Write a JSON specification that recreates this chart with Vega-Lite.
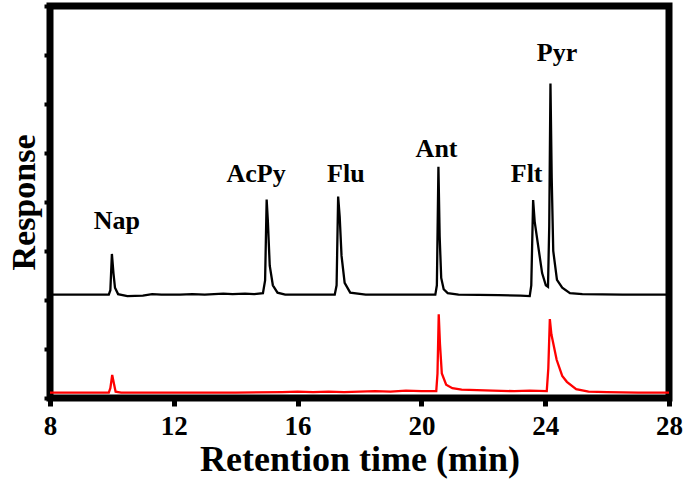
{
  "$schema": "https://vega.github.io/schema/vega-lite/v6.json",
  "width": 619,
  "height": 392,
  "autosize": "none",
  "padding": {"left": 50, "top": 6, "right": 16, "bottom": 95},
  "background": "white",
  "config": {
    "view": {"stroke": "black", "strokeWidth": 7},
    "font": "Liberation Serif"
  },
  "datasets": {
    "trace": [
      {"t": 8.0, "r": 2.11, "s": "upper"},
      {"t": 9.9, "r": 2.11, "s": "upper"},
      {"t": 9.95, "r": 2.2, "s": "upper"},
      {"t": 10.0, "r": 2.94, "s": "upper"},
      {"t": 10.05, "r": 2.55, "s": "upper"},
      {"t": 10.1, "r": 2.25, "s": "upper"},
      {"t": 10.2, "r": 2.12, "s": "upper"},
      {"t": 10.5, "r": 2.08, "s": "upper"},
      {"t": 11.0, "r": 2.09, "s": "upper"},
      {"t": 11.3, "r": 2.12, "s": "upper"},
      {"t": 11.6, "r": 2.11, "s": "upper"},
      {"t": 12.2, "r": 2.11, "s": "upper"},
      {"t": 12.6, "r": 2.12, "s": "upper"},
      {"t": 13.0, "r": 2.11, "s": "upper"},
      {"t": 13.3, "r": 2.12, "s": "upper"},
      {"t": 13.6, "r": 2.13, "s": "upper"},
      {"t": 13.9, "r": 2.12, "s": "upper"},
      {"t": 14.3, "r": 2.13, "s": "upper"},
      {"t": 14.6, "r": 2.12, "s": "upper"},
      {"t": 14.88, "r": 2.14, "s": "upper"},
      {"t": 14.95, "r": 2.4, "s": "upper"},
      {"t": 15.0, "r": 4.05, "s": "upper"},
      {"t": 15.04, "r": 3.6, "s": "upper"},
      {"t": 15.1, "r": 2.7, "s": "upper"},
      {"t": 15.2, "r": 2.3, "s": "upper"},
      {"t": 15.35, "r": 2.15, "s": "upper"},
      {"t": 15.6, "r": 2.11, "s": "upper"},
      {"t": 16.5, "r": 2.11, "s": "upper"},
      {"t": 17.2, "r": 2.11, "s": "upper"},
      {"t": 17.26, "r": 2.3, "s": "upper"},
      {"t": 17.31, "r": 4.11, "s": "upper"},
      {"t": 17.36, "r": 3.7, "s": "upper"},
      {"t": 17.42, "r": 2.9, "s": "upper"},
      {"t": 17.52, "r": 2.35, "s": "upper"},
      {"t": 17.7, "r": 2.15, "s": "upper"},
      {"t": 18.2, "r": 2.11, "s": "upper"},
      {"t": 19.5, "r": 2.11, "s": "upper"},
      {"t": 20.45, "r": 2.11, "s": "upper"},
      {"t": 20.5, "r": 2.3, "s": "upper"},
      {"t": 20.55, "r": 4.72, "s": "upper"},
      {"t": 20.59, "r": 3.3, "s": "upper"},
      {"t": 20.64, "r": 2.45, "s": "upper"},
      {"t": 20.72, "r": 2.22, "s": "upper"},
      {"t": 20.85, "r": 2.14, "s": "upper"},
      {"t": 21.2, "r": 2.11, "s": "upper"},
      {"t": 22.5, "r": 2.1, "s": "upper"},
      {"t": 23.2, "r": 2.09, "s": "upper"},
      {"t": 23.5, "r": 2.08, "s": "upper"},
      {"t": 23.55, "r": 2.3, "s": "upper"},
      {"t": 23.61, "r": 4.04, "s": "upper"},
      {"t": 23.66, "r": 3.6, "s": "upper"},
      {"t": 23.76, "r": 3.16, "s": "upper"},
      {"t": 23.9, "r": 2.55, "s": "upper"},
      {"t": 24.02, "r": 2.3, "s": "upper"},
      {"t": 24.09, "r": 2.27, "s": "upper"},
      {"t": 24.13, "r": 3.5, "s": "upper"},
      {"t": 24.17, "r": 6.42, "s": "upper"},
      {"t": 24.21, "r": 4.5, "s": "upper"},
      {"t": 24.26, "r": 3.0, "s": "upper"},
      {"t": 24.38, "r": 2.41, "s": "upper"},
      {"t": 24.55, "r": 2.25, "s": "upper"},
      {"t": 24.8, "r": 2.14, "s": "upper"},
      {"t": 25.2, "r": 2.12, "s": "upper"},
      {"t": 26.5, "r": 2.11, "s": "upper"},
      {"t": 28.0, "r": 2.11, "s": "upper"},
      {"t": 8.0, "r": 0.11, "s": "lower"},
      {"t": 9.9, "r": 0.11, "s": "lower"},
      {"t": 9.95, "r": 0.2, "s": "lower"},
      {"t": 10.01, "r": 0.47, "s": "lower"},
      {"t": 10.07, "r": 0.28, "s": "lower"},
      {"t": 10.12, "r": 0.13, "s": "lower"},
      {"t": 10.3, "r": 0.11, "s": "lower"},
      {"t": 12.0, "r": 0.11, "s": "lower"},
      {"t": 14.0, "r": 0.11, "s": "lower"},
      {"t": 15.5, "r": 0.12, "s": "lower"},
      {"t": 16.0, "r": 0.13, "s": "lower"},
      {"t": 16.5, "r": 0.12, "s": "lower"},
      {"t": 17.0, "r": 0.13, "s": "lower"},
      {"t": 17.5, "r": 0.12, "s": "lower"},
      {"t": 18.0, "r": 0.13, "s": "lower"},
      {"t": 18.5, "r": 0.14, "s": "lower"},
      {"t": 19.0, "r": 0.13, "s": "lower"},
      {"t": 19.5, "r": 0.15, "s": "lower"},
      {"t": 20.0, "r": 0.14, "s": "lower"},
      {"t": 20.48, "r": 0.14, "s": "lower"},
      {"t": 20.52, "r": 0.5, "s": "lower"},
      {"t": 20.56, "r": 1.71, "s": "lower"},
      {"t": 20.6, "r": 1.1, "s": "lower"},
      {"t": 20.66, "r": 0.5, "s": "lower"},
      {"t": 20.8, "r": 0.27, "s": "lower"},
      {"t": 21.0, "r": 0.2, "s": "lower"},
      {"t": 21.3, "r": 0.17, "s": "lower"},
      {"t": 21.8, "r": 0.16, "s": "lower"},
      {"t": 22.3, "r": 0.15, "s": "lower"},
      {"t": 23.0, "r": 0.14, "s": "lower"},
      {"t": 23.5, "r": 0.15, "s": "lower"},
      {"t": 24.05, "r": 0.14, "s": "lower"},
      {"t": 24.1, "r": 0.6, "s": "lower"},
      {"t": 24.15, "r": 1.61, "s": "lower"},
      {"t": 24.2, "r": 1.3, "s": "lower"},
      {"t": 24.37, "r": 0.78, "s": "lower"},
      {"t": 24.55, "r": 0.45, "s": "lower"},
      {"t": 24.7, "r": 0.33, "s": "lower"},
      {"t": 25.0, "r": 0.18, "s": "lower"},
      {"t": 25.4, "r": 0.13, "s": "lower"},
      {"t": 26.0, "r": 0.12, "s": "lower"},
      {"t": 27.0, "r": 0.11, "s": "lower"},
      {"t": 28.0, "r": 0.11, "s": "lower"}
    ],
    "labels": [
      {"t": 10.16, "r": 3.45, "name": "Nap"},
      {"t": 14.66, "r": 4.41, "name": "AcPy"},
      {"t": 17.56, "r": 4.41, "name": "Flu"},
      {"t": 20.49, "r": 4.92, "name": "Ant"},
      {"t": 23.4, "r": 4.41, "name": "Flt"},
      {"t": 24.38, "r": 6.88, "name": "Pyr"}
    ]
  },
  "layer": [
    {
      "data": {"name": "trace"},
      "mark": {"type": "line", "strokeWidth": 2.3, "interpolate": "linear"},
      "encoding": {
        "x": {
          "field": "t", "type": "quantitative",
          "scale": {"domain": [8, 28], "nice": false, "zero": false},
          "axis": {
            "title": "Retention time (min)",
            "values": [8, 12, 16, 20, 24, 28],
            "domain": false, "grid": false,
            "tickColor": "black", "tickWidth": 5, "tickSize": 8,
            "labelFont": "Liberation Serif", "labelFontWeight": "bold", "labelFontSize": 27, "labelColor": "black",
            "labelPadding": 7, "labelFlush": false,
            "titleFont": "Liberation Serif", "titleFontWeight": "bold", "titleFontSize": 36, "titleColor": "black",
            "titlePadding": 3
          }
        },
        "y": {
          "field": "r", "type": "quantitative",
          "scale": {"domain": [0, 8], "nice": false, "zero": false},
          "axis": {
            "title": "Response",
            "values": [0, 1, 2, 3, 4, 5, 6, 7, 8],
            "labels": false,
            "domain": false, "grid": false,
            "tickColor": "black", "tickWidth": 4, "tickSize": 6,
            "titleFont": "Liberation Serif", "titleFontWeight": "bold", "titleFontSize": 34, "titleColor": "black",
            "titlePadding": 1
          }
        },
        "color": {
          "field": "s", "type": "nominal",
          "scale": {"domain": ["upper", "lower"], "range": ["#000000", "#ff0000"]},
          "legend": null
        },
        "detail": {"field": "s"}
      }
    },
    {
      "data": {"name": "labels"},
      "mark": {"type": "text", "font": "Liberation Serif", "fontWeight": "bold", "fontSize": 26, "baseline": "alphabetic", "align": "center", "color": "black"},
      "encoding": {
        "x": {"field": "t", "type": "quantitative"},
        "y": {"field": "r", "type": "quantitative"},
        "text": {"field": "name"}
      }
    }
  ]
}
